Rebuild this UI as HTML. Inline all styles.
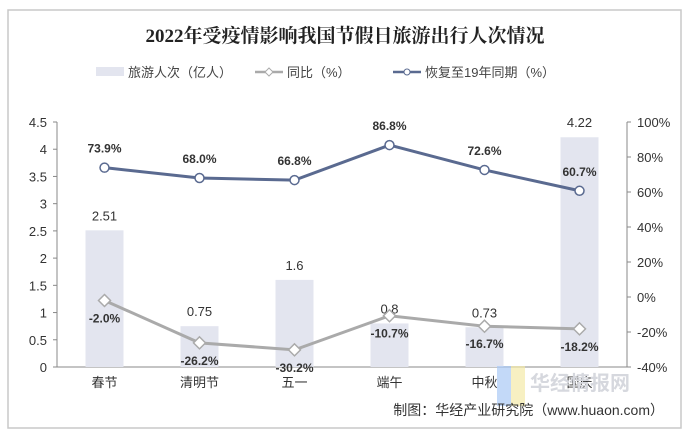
<!DOCTYPE html>
<html><head><meta charset="utf-8"><style>
body{margin:0;background:#fff;}
svg text{font-family:"Liberation Sans","Noto Sans CJK SC",sans-serif;}
</style></head><body>
<svg width="690" height="441">
<rect x="8" y="10" width="673" height="418" fill="#fff" stroke="#c8c8c8" stroke-width="1.5"/>
<text x="345" y="42" text-anchor="middle" font-size="19" font-weight="bold" fill="#222" style="font-family:'Liberation Serif','Noto Serif CJK SC',serif">2022年受疫情影响我国节假日旅游出行人次情况</text>
<g id="legend" font-size="13" fill="#444">
<g><rect x="96" y="67" width="28" height="9" fill="#e3e5ef"/><text x="128" y="77">旅游人次（亿人）</text></g>
<g><line x1="255" y1="72" x2="283" y2="72" stroke="#aaa" stroke-width="2.5"/><path d="M269 68 L273 72 L269 76 L265 72Z" fill="#fff" stroke="#aaa"/><text x="287" y="77">同比（%）</text></g>
<g><line x1="393" y1="72" x2="421" y2="72" stroke="#5a6a90" stroke-width="2.5"/><circle cx="407" cy="72" r="3" fill="#fff" stroke="#5a6a90"/><text x="425" y="77">恢复至19年同期（%）</text></g>
</g>
<g id="plot"></g>
<rect x="497" y="366" width="14" height="40" fill="#a9c9f5" opacity="0.7"/>
<rect x="511" y="366" width="14" height="40" fill="#f4e9a8" opacity="0.7"/>
<text x="530" y="390" font-size="20" font-weight="bold" fill="#d6d8de">华经情报网</text>
<text x="664" y="415" text-anchor="end" font-size="14" fill="#333">制图：华经产业研究院（www.huaon.com）</text>
</svg>
<script>
const categories=["春节","清明节","五一","端午","中秋","国庆"];
const tourism=[2.51,0.75,1.6,0.8,0.73,4.22];
const yoy=[-2.0,-26.2,-30.2,-10.7,-16.7,-18.2];
const recovery=[73.9,68.0,66.8,86.8,72.6,60.7];
const leftTicks=[0,0.5,1,1.5,2,2.5,3,3.5,4,4.5];
const rightTicks=[-40,-20,0,20,40,60,80,100];
const NS="http://www.w3.org/2000/svg";
const g=document.getElementById('plot');
const x0=57,x1=627,yTop=122,yBot=367;
const yL=v=>yBot-(v/4.5)*(yBot-yTop);
const yR=v=>yBot-((v+40)/140)*(yBot-yTop);
const band=(x1-x0)/categories.length;
const xC=i=>x0+band*(i+0.5);
function el(t,a,txt){const e=document.createElementNS(NS,t);for(const k in a)e.setAttribute(k,a[k]);if(txt!==undefined)e.textContent=txt;g.appendChild(e);return e;}
let ax=el('line',{x1:x0,y1:yTop,x2:x0,y2:yBot,stroke:'#888'});


ax=el('line',{x1:x1,y1:yTop,x2:x1,y2:yBot,stroke:'#888'});


ax=el('line',{x1:x0,y1:yBot,x2:x1,y2:yBot,stroke:'#888'});


leftTicks.forEach(v=>{el('line',{x1:x0-4,y1:yL(v),x2:x0,y2:yL(v),stroke:'#888'});
const t=el('text',{x:x0-10,y:yL(v)+5,'text-anchor':'end','font-size':13,fill:'#333'},v);

});
rightTicks.forEach(v=>{el('line',{x1:x1,y1:yR(v),x2:x1+4,y2:yR(v),stroke:'#888'});
const t=el('text',{x:x1+10,y:yR(v)+5,'font-size':13,fill:'#333'},v+'%');

});
categories.forEach((c,i)=>{
const b=el('rect',{x:xC(i)-19,y:yL(tourism[i]),width:38,height:yBot-yL(tourism[i]),fill:'#e3e5ef'});


const l=el('text',{x:xC(i),y:yL(tourism[i])-10,'text-anchor':'middle','font-size':13,fill:'#333'},tourism[i]);


const t=el('text',{x:xC(i),y:yBot+20,'text-anchor':'middle','font-size':13,fill:'#333'},c);

});
function line(vals,color,name,marker){
const p=el('polyline',{points:vals.map((v,i)=>xC(i)+','+yR(v)).join(' '),fill:'none',stroke:color,'stroke-width':3});


vals.forEach((v,i)=>{let m;
if(marker==='d')m=el('path',{d:`M${xC(i)} ${yR(v)-6}L${xC(i)+6} ${yR(v)}L${xC(i)} ${yR(v)+6}L${xC(i)-6} ${yR(v)}Z`,fill:'#fff',stroke:color,'stroke-width':1.5});
else m=el('circle',{cx:xC(i),cy:yR(v),r:4.5,fill:'#fff',stroke:color,'stroke-width':1.5});


const t=el('text',{x:xC(i),y:marker==='d'?yR(v)+22:yR(v)-15,'text-anchor':'middle','font-size':12,'font-weight':'bold',fill:'#333'},v.toFixed(1)+'%');

});}
line(yoy,'#aaa','yoy','d');
line(recovery,'#5a6a90','recovery','c');
</script>
</body></html>
